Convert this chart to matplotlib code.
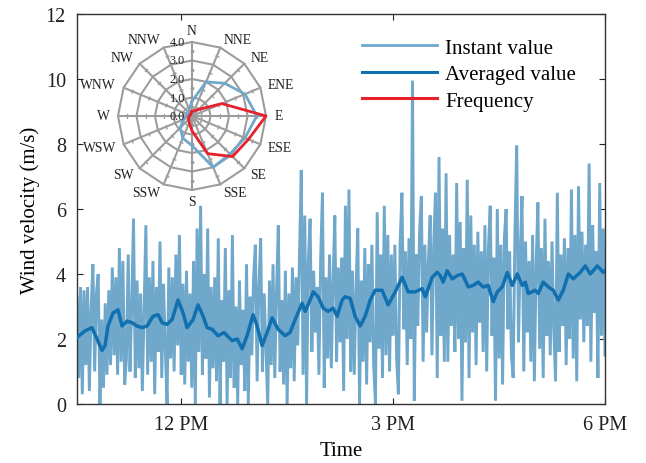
import numpy as np
import matplotlib
matplotlib.use("Agg")
import matplotlib.pyplot as plt
from matplotlib.lines import Line2D

plt.rcParams['font.family'] = ['Liberation Serif', 'DejaVu Serif']

# ---------------- data ----------------
# instant wind velocity (m/s), sampled regularly from 10:32 to 18:00
instant = [
    3.3, 0.8, 3.6, 0.3, 3.5, 1.2, 3.6, 0.4, 2.9, 4.3,
    1.0, 3.4, 4.0, 0.0, 2.6, 0.5, 3.1, 0.9, 3.5, 1.2,
    4.2, 1.5, 3.9, 0.9, 4.8, 1.3, 4.4, 0.6, 1.4, 4.6,
    1.0, 3.0, 5.7, 0.8, 3.8, 1.1, 3.4, 0.4, 2.9, 5.5,
    0.9, 3.9, 1.3, 4.4, 0.3, 3.6, 1.6, 5.0, 0.8, 3.7,
    1.7, 0.0, 4.2, 1.4, 3.9, 1.0, 4.6, 1.8, 5.2, 0.9,
    3.7, 0.6, 4.1, 1.3, 3.4, 0.5, 4.4, 0.0, 5.4, 1.6,
    6.1, 0.9, 4.0, 1.4, 5.4, 0.2, 3.6, 1.1, 3.9, 0.7,
    5.1, 0.0, 3.2, 1.3, 4.8, 0.0, 3.5, 0.8, 5.2, 0.5,
    3.0, 0.0, 3.8, 1.2, 2.9, 0.4, 4.3, 0.0, 3.3, 1.5,
    3.9, 4.9, 0.7, 3.6, 5.1, 1.0, 3.4, 1.7, 0.0, 3.8,
    1.2, 4.3, 0.8, 3.5, 5.5, 1.0, 3.2, 0.6, 4.1, 0.0,
    3.4, 1.1, 4.2, 0.7, 3.9, 1.8, 4.6, 7.2, 0.9, 5.8,
    0.0, 4.4, 5.7, 1.6, 4.1, 2.2, 3.6, 0.9, 4.5, 6.5,
    0.5, 3.9, 1.4, 4.6, 1.1, 3.8, 5.8, 1.3, 4.2, 1.9,
    4.5, 0.4, 6.1, 2.0, 6.6, 1.0, 4.1, 0.9, 3.5, 5.4,
    0.0, 3.8, 1.3, 4.8, 0.6, 4.3, 1.9, 4.9, 1.2, 0.0,
    5.9, 1.7, 4.6, 0.8, 6.1, 1.5, 5.2, 1.0, 4.6, 2.1,
    4.9, 1.4, 0.3, 5.0, 6.5, 2.3, 4.7, 1.2, 5.1, 2.0,
    9.95, 0.1, 4.6, 2.4, 5.3, 6.4, 1.3, 4.9, 2.2, 4.4,
    5.8, 1.5, 4.9, 6.5, 0.8, 7.6, 2.1, 5.4, 1.3, 7.1,
    1.3, 5.2, 2.4, 4.6, 1.6, 6.8, 2.0, 5.6, 0.1, 4.8,
    1.9, 6.9, 0.8, 5.8, 2.2, 4.9, 1.2, 5.3, 2.5, 4.7,
    1.6, 5.5, 1.0, 4.8, 6.1, 2.1, 4.5, 0.1, 6.0, 1.4,
    4.9, 0.6, 5.1, 6.0, 2.3, 4.7, 1.5, 0.8, 5.3, 7.95,
    1.9, 4.6, 6.4, 1.0, 5.0, 2.2, 4.4, 1.3, 5.2, 0.7,
    4.3, 6.2, 1.7, 4.8, 0.8, 5.7, 2.1, 4.4, 1.5, 5.0,
    2.3, 0.7, 6.5, 1.6, 4.6, 2.4, 5.1, 1.2, 4.8, 2.0,
    6.6, 1.4, 5.2, 0.7, 6.7, 2.6, 5.3, 1.9, 4.9, 2.4,
    7.4, 1.3, 5.5, 2.8, 4.7, 0.8, 6.8, 2.1, 5.4, 1.5,
]
start_min, end_min = 2, 450          # minutes after 10:30
instant_t = np.linspace(start_min, end_min, len(instant))

# averaged wind velocity (m/s) vs minutes after 10:30
avg_t = [2.0, 8.8, 14.7, 19.0, 23.2, 25.8, 28.3, 32.6, 36.8, 40.2, 44.5, 48.7,
         52.9, 57.2, 61.4, 66.5, 70.8, 74.2, 78.4, 82.7, 87.7, 92.0, 95.4,
         100.5, 104.7, 109.0, 112.4, 116.6, 121.7, 126.8, 129.4, 133.6, 137.9,
         142.1, 146.3, 151.4, 154.8, 159.1, 163.3, 167.6, 172.6, 178.6, 182.8,
         187.1, 193.0, 195.6, 199.8, 202.4, 206.6, 210.9, 215.1, 219.3, 222.7,
         227.0, 229.5, 233.8, 238.0, 242.3, 246.5, 250.8, 255.0, 260.9, 266.0,
         272.0, 277.9, 283.0, 288.9, 294.9, 297.5, 303.4, 307.6, 310.2, 312.7,
         316.1, 320.4, 324.6, 328.9, 334.0, 338.2, 342.4, 346.7, 350.9, 355.2,
         358.6, 362.8, 367.1, 371.3, 375.6, 379.8, 382.4, 384.9, 390.9, 393.4,
         397.6, 401.9, 406.1, 410.4, 414.6, 418.9, 423.1, 429.0, 433.3, 437.5,
         443.5, 448.6, 450.0]
avg_v = [2.05, 2.25, 2.35, 2.0, 1.65, 1.8, 2.4, 2.8, 2.9, 2.4, 2.55, 2.5,
         2.4, 2.35, 2.4, 2.7, 2.75, 2.5, 2.45, 2.6, 3.2, 2.8, 2.35,
         2.6, 3.05, 2.7, 2.35, 2.3, 2.1, 2.2, 2.1, 1.95, 2.0,
         1.7, 2.1, 2.75, 2.4, 1.8, 2.2, 2.65, 2.3, 2.1, 2.2,
         2.6, 3.1, 2.85, 3.2, 3.45, 3.3, 2.95, 2.85, 2.95, 2.7,
         3.2, 3.3, 3.25, 2.7, 2.4, 2.7, 3.2, 3.5, 3.5, 3.05,
         3.45, 3.9, 3.45, 3.45, 3.55, 3.3, 3.9, 4.05, 3.95, 3.75,
         4.1, 3.85, 3.95, 4.0, 3.6, 3.65, 3.75, 3.6, 3.65, 3.15,
         3.45, 3.6, 4.05, 3.65, 4.0, 3.65, 3.75, 3.4, 3.5, 3.4,
         3.75, 3.6, 3.5, 3.2, 3.5, 4.0, 3.85, 4.05, 4.25, 4.0,
         4.25, 4.05, 4.1]

x_tick_pos = [90, 270, 450]
x_tick_labels = ['12 PM', '3 PM', '6 PM']
y_ticks = [0, 2, 4, 6, 8, 10, 12]

# wind rose
directions = ['N', 'NNE', 'NE', 'ENE', 'E', 'ESE', 'SE', 'SSE',
              'S', 'SSW', 'SW', 'WSW', 'W', 'WNW', 'NW', 'NNW']
dir_speed = [0.8, 2.0, 2.5, 3.1, 3.5, 3.1, 2.9, 3.0,
             1.6, 1.3, 0.9, 0.5, 0.35, 0.3, 0.3, 0.4]
dir_freq = [0.25, 0.3, 0.5, 1.75, 4.0, 3.3, 3.1, 2.2,
            0.8, 0.4, 0.25, 0.2, 0.15, 0.1, 0.1, 0.15]
ring_vals = [0.0, 1.0, 2.0, 3.0, 4.0]
ring_labels = ['0.0', '1.0', '2.0', '3.0', '4.0']

# ---------------- style ----------------
c_inst = '#6fa8cb'
c_avg = '#1070b0'
c_freq = '#e8202c'
c_grid = '#9c9c9c'

fig = plt.figure(figsize=(6.46, 4.64), dpi=100)
ax = fig.add_axes([77/646, 59/464, 528/646, 390/464])

ax.plot(instant_t, instant, color=c_inst, lw=2.1, zorder=2,
        solid_joinstyle='miter')
ax.plot(avg_t, avg_v, color=c_avg, lw=2.5, zorder=3)

ax.set_xlim(start_min, end_min)
ax.set_ylim(0, 12)
ax.set_xticks(x_tick_pos)
ax.set_xticklabels(x_tick_labels)
ax.set_yticks(y_ticks)
ax.tick_params(direction='in', length=4, width=0.8, top=True, right=True,
               labelsize=14.5, colors='#222222', pad=8)
for s in ax.spines.values():
    s.set_linewidth(1.0)
    s.set_color('#333333')
ax.set_xlabel('Time', fontsize=15, labelpad=5)
ax.set_ylabel('Wind velocity (m/s)', fontsize=15, labelpad=4)

handles = [Line2D([], [], color=c_inst, lw=2.0),
           Line2D([], [], color=c_avg, lw=2.2),
           Line2D([], [], color=c_freq, lw=2.2)]
leg = fig.legend(handles, ['Instant value', 'Averaged value', 'Frequency'],
                 loc='upper left', bbox_to_anchor=(362/646, 1 - 39/464),
                 frameon=False, fontsize=15, handlelength=3.6,
                 handletextpad=0.4, labelspacing=0.33, borderpad=0,
                 borderaxespad=0)

# ---------------- wind rose inset ----------------
cx, cy, R = 192, 117, 74
pax = fig.add_axes([(cx - R)/646, (464 - cy - R)/464, 2*R/646, 2*R/464],
                   projection='polar')
pax.set_theta_zero_location('N')
pax.set_theta_direction(-1)
pax.set_ylim(0, 4)
pax.grid(False)
pax.set_xticks([])
pax.set_yticks([])
pax.spines['polar'].set_visible(False)
pax.patch.set_alpha(0)

theta = np.deg2rad(np.arange(len(directions)) * 22.5)
theta_c = np.append(theta, theta[0])
for r in ring_vals[1:]:
    pax.plot(theta_c, [r]*len(theta_c), color=c_grid, lw=1.5, zorder=1,
             clip_on=False)
for th in theta:
    pax.plot([th, th], [0, ring_vals[-1]], color=c_grid, lw=1.5, zorder=1,
             clip_on=False)
    for rr in [0.5, 1.5, 2.5, 3.5]:
        ang = 90 - np.rad2deg(th)
        pax.plot([th], [rr], marker=(2, 0, ang), ms=3, mew=1.0,
                 color=c_grid, zorder=1)

pax.plot(np.append(theta, theta[0]), dir_speed + dir_speed[:1],
         color=c_inst, lw=2.0, zorder=3, clip_on=False)
pax.plot(np.append(theta, theta[0]), dir_freq + dir_freq[:1],
         color=c_freq, lw=2.0, zorder=4, clip_on=False)

for th, name in zip(theta, directions):
    s = np.sin(th)
    if abs(s) < 1e-6:
        ha, rr = 'center', 4.62
    elif s > 0:
        ha, rr = 'left', 4.45
    else:
        ha, rr = 'right', 4.45
    pax.text(th, rr, name, ha=ha, va='center', fontsize=9.8,
             color='#222222')
for r, lab in zip(ring_vals, ring_labels):
    pax.annotate(lab, xy=(0, r), xytext=(-10.5, 0), textcoords='offset points',
                 ha='center', va='center', fontsize=8.8, color='#222222',
                 zorder=5)

fig.savefig('out.png', dpi=100)
